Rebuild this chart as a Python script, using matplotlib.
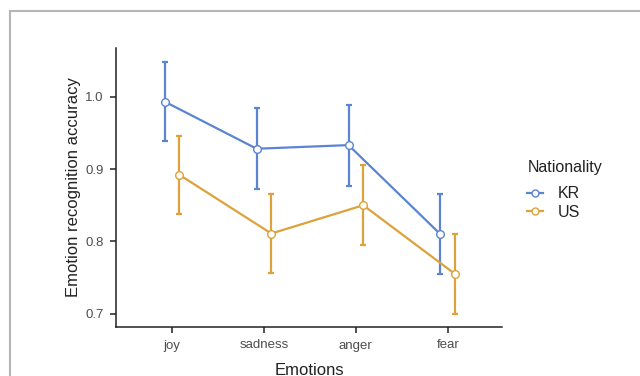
import matplotlib
matplotlib.use("Agg")
import matplotlib.pyplot as plt
from matplotlib.lines import Line2D
import numpy as np

emotions = ["joy", "sadness", "anger", "fear"]
groups = ["KR", "US"]
kr_mean = [0.993, 0.928, 0.933, 0.810]
kr_err = [0.055, 0.056, 0.056, 0.055]
us_mean = [0.892, 0.811, 0.850, 0.755]
us_err = [0.054, 0.055, 0.055, 0.055]
colors = {"KR": "#5B84D3", "US": "#DDA23B"}

plt.rcParams['font.family'] = ['Liberation Sans', 'DejaVu Sans']

fig = plt.figure(figsize=(6.4, 3.76), dpi=100)
ax = fig.add_axes([116/640, 1-327/376, (502-116)/640, (327-48)/376])

x = np.arange(1, len(emotions)+1)
dodge = 0.08
for g, m, e, off in [("KR", kr_mean, kr_err, -dodge), ("US", us_mean, us_err, dodge)]:
    c = colors[g]
    ax.errorbar(x + off, m, yerr=e, fmt='none', ecolor=c, elinewidth=1.6,
                capsize=2.2, capthick=1.6, zorder=2)
    ax.plot(x + off, m, color=c, lw=1.6, marker='o', markersize=5.5,
            markerfacecolor='white', markeredgecolor=c, markeredgewidth=1.0,
            zorder=3, label=g)

ax.set_xlim(0.39, 4.59)
ax.set_ylim(0.682, 1.067)
ax.set_xticks(x)
ax.set_xticklabels(emotions)
ax.set_yticks([0.7, 0.8, 0.9, 1.0])
ax.set_yticklabels(["0.7", "0.8", "0.9", "1.0"])
for s in ["top", "right"]:
    ax.spines[s].set_visible(False)
for s in ["left", "bottom"]:
    ax.spines[s].set_linewidth(1.1)
    ax.spines[s].set_color("#222222")
ax.tick_params(axis='both', length=4, width=1.1, color="#222222",
               labelsize=9.5, labelcolor="#4d4d4d", pad=5)
ax.set_xlabel("Emotions", fontsize=12, color="#222222", labelpad=8)
ax.set_ylabel("Emotion recognition accuracy", fontsize=12, color="#222222", labelpad=3)

handles = [Line2D([], [], color=colors[g], lw=1.6, marker='o', markersize=5,
                  markerfacecolor='white', markeredgecolor=colors[g]) for g in groups]
leg = fig.legend(handles, groups, title="Nationality", loc='upper left',
                 bbox_to_anchor=(513/640, 1-146/376), frameon=False, borderpad=0.4,
                 fontsize=11.5, title_fontsize=11.5, handlelength=1.0,
                 handletextpad=0.9, labelspacing=0.2, alignment='left')
leg._legend_box.sep = 8
leg.get_title().set_color("#222222")
for t in leg.get_texts():
    t.set_color("#222222")

# screenshot frame lines
fig.add_artist(Line2D([10/640, 10/640], [0, 1-11/376], transform=fig.transFigure,
                      color="#b5b5b5", lw=1.5))
fig.add_artist(Line2D([10/640, 1], [1-11/376, 1-11/376], transform=fig.transFigure,
                      color="#b5b5b5", lw=1.5))

fig.savefig("out.png", dpi=100)
